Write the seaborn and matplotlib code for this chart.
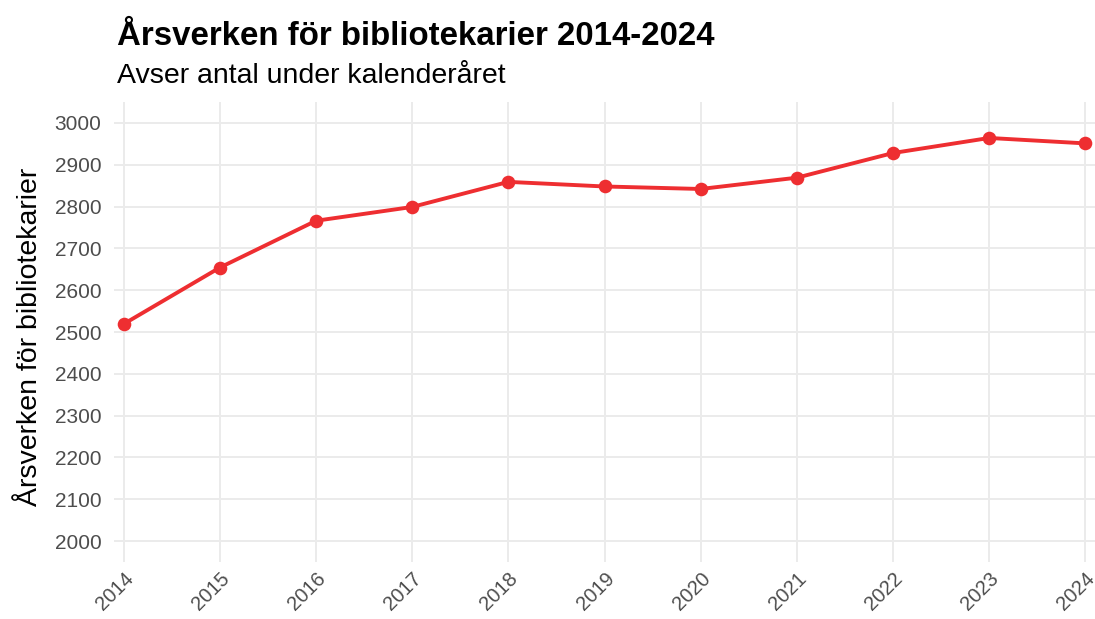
import numpy as np
import pandas as pd
import seaborn as sns
from matplotlib import pyplot as plt

sns.set_theme(style="whitegrid")
plt.rcParams['font.family'] = ['Liberation Sans', 'DejaVu Sans']
plt.rcParams['text.color'] = "black"

# ----------------
years = [2014, 2015, 2016, 2017, 2018, 2019, 2020, 2021, 2022, 2023, 2024]
arsverken = [2519, 2654, 2766, 2799, 2859, 2848, 2842, 2869, 2928, 2964, 2951]
yticks = list(range(2000, 3001, 100))

df = pd.DataFrame({"ar": years, "arsverken": arsverken})

# ----------------
fh = plt.figure(figsize=(10.95, 6.19), dpi=100)
ah = fh.add_axes([114/1095, 1-562/619, (1095-114)/1095, (562-102)/619])

sns.lineplot(x="ar", y="arsverken", data=df, ax=ah, color="#EE2E31",
             linewidth=2.8, marker="o", markersize=9.8, markeredgewidth=0)

ah.set_xlim(2013.9, 2024.1)
ah.set_ylim(1950, 3050)
ah.set_xticks(years)
ah.set_xticklabels([str(y) for y in years], rotation=45, ha="right",
                   rotation_mode="anchor")
ah.set_yticks(yticks)
ah.tick_params(axis='both', length=0, labelcolor="#4D4D4D")
ah.tick_params(axis='y', pad=9, labelsize=15)
ah.tick_params(axis='x', pad=5, labelsize=14.5)
for s in ah.spines.values():
    s.set_visible(False)
ah.grid(True, color="#EBEBEB", linewidth=1.4)
ah.set_xlabel("")
ah.set_ylabel("Årsverken för bibliotekarier", fontsize=20.5, color="black")
ah.yaxis.set_label_coords(-0.072, 0.49)

fh.text(117/1095, 1-45/619, "Årsverken för bibliotekarier 2014-2024",
        fontsize=23.8, fontweight="bold", ha="left", va="baseline")
fh.text(117/1095, 1-83/619, "Avser antal under kalenderåret",
        fontsize=20.5, ha="left", va="baseline")

fh.savefig("out.png", dpi=100)
